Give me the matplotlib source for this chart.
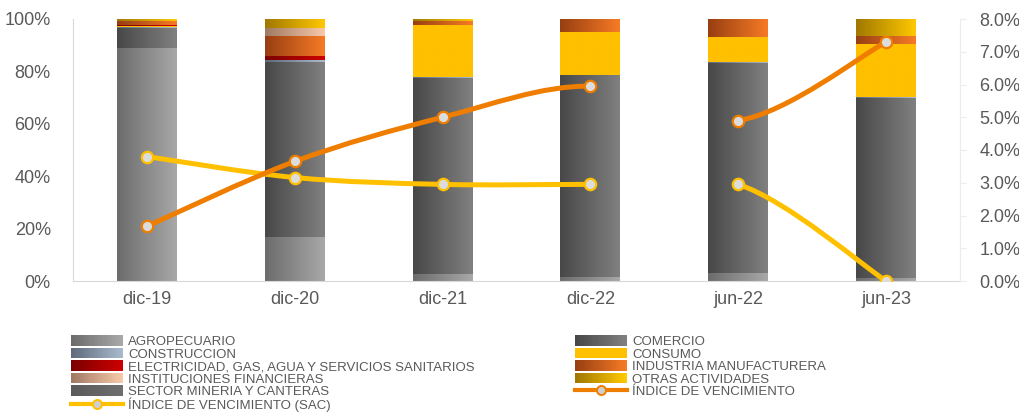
import numpy as np
import matplotlib
matplotlib.use("Agg")
import matplotlib.pyplot as plt
from matplotlib.colors import LinearSegmentedColormap
from matplotlib.patches import Rectangle, PathPatch
from matplotlib.path import Path
from matplotlib.lines import Line2D
from matplotlib.legend_handler import HandlerBase
from matplotlib.ticker import PercentFormatter, MultipleLocator

plt.rcParams['font.family'] = ['Liberation Sans', 'DejaVu Sans']

# datos (participacion por sector, fraccion del total)
periodos = ["dic-19", "dic-20", "dic-21", "dic-22", "jun-22", "jun-23"]

agropecuario   = [0.888, 0.167, 0.025, 0.015, 0.030, 0.010]
comercio       = [0.079, 0.667, 0.750, 0.772, 0.801, 0.688]
construccion   = [0.003, 0.011, 0.003, 0.000, 0.003, 0.003]
consumo        = [0.002, 0.000, 0.198, 0.164, 0.098, 0.205]
electricidad   = [0.004, 0.015, 0.000, 0.000, 0.000, 0.000]
industria      = [0.015, 0.076, 0.015, 0.049, 0.068, 0.030]
instituciones  = [0.003, 0.030, 0.000, 0.000, 0.000, 0.000]
otras          = [0.006, 0.034, 0.009, 0.000, 0.000, 0.064]
mineria        = [0.000, 0.000, 0.000, 0.000, 0.000, 0.000]

# indices de vencimiento (%)
indice_sac = [3.80, 3.16, 2.95, 2.95, 2.95, 0.00]
indice     = [1.67, 3.65, 5.00, 5.95, 4.90, 7.30]

# tramo que no se dibuja (entre dic-22 y jun-22)
tramo_oculto = 3

sectores = [
    ("AGROPECUARIO", agropecuario, "#6c6c6c", "#a8a8a8"),
    ("COMERCIO", comercio, "#484848", "#808080"),
    ("CONSTRUCCION", construccion, "#5f6b7c", "#a9b9cc"),
    ("CONSUMO", consumo, "#ffc000", "#ffc000"),
    ("ELECTRICIDAD, GAS, AGUA Y SERVICIOS SANITARIOS", electricidad, "#7c0000", "#cc0000"),
    ("INDUSTRIA MANUFACTURERA", industria, "#983f12", "#f67a25"),
    ("INSTITUCIONES FINANCIERAS", instituciones, "#a07a64", "#f8c8a8"),
    ("OTRAS ACTIVIDADES", otras, "#a07800", "#ffc800"),
    ("SECTOR MINERIA Y CANTERAS", mineria, "#5a5a5a", "#6e6e6e"),
]

gris = "#595959"
amarillo = "#ffc000"
naranja = "#ee7d00"

fig = plt.figure(figsize=(10.19, 4.12), dpi=100)
ax = fig.add_axes([73/1019, 1-281/412, 887/1019, 262/412])
x = np.arange(len(periodos))
grad = np.linspace(0, 1, 64).reshape(1, -1)

base = np.zeros(len(periodos))
for nombre, vals, c1, c2 in sectores:
    vals = np.array(vals)
    barras = ax.bar(x, vals, width=0.405, bottom=base, color="none", linewidth=0)
    cmap = LinearSegmentedColormap.from_list(nombre, [c1, c2])
    for b in barras:
        if b.get_height() <= 0:
            continue
        bx, by = b.get_x(), b.get_y()
        im = ax.imshow(grad, cmap=cmap, aspect="auto", zorder=2,
                       extent=[bx, bx + b.get_width(), by, by + b.get_height()])
        im.set_clip_path(b)
    base += vals

ax.set_xlim(-0.5, len(periodos) - 0.5)
ax.set_ylim(0, 1)
ax.set_xticks(x)
ax.set_xticklabels(periodos)
ax.yaxis.set_major_locator(MultipleLocator(0.2))
ax.yaxis.set_major_formatter(PercentFormatter(1, decimals=0))
ax.tick_params(axis="both", length=0, labelsize=13, labelcolor=gris)
ax.tick_params(axis="y", pad=16)
ax.tick_params(axis="x", pad=7)
for s in ["top", "right"]:
    ax.spines[s].set_visible(False)
for s in ["left", "bottom"]:
    ax.spines[s].set_color("#d9d9d9")

ax2 = ax.twinx()
ax2.set_ylim(0, 8)
ax2.yaxis.set_major_locator(MultipleLocator(1))
ax2.yaxis.set_major_formatter(PercentFormatter(100, decimals=1))
ax2.tick_params(axis="y", length=4, color="#ececec", labelsize=13, labelcolor=gris, pad=10)
for s in ["top", "left", "bottom"]:
    ax2.spines[s].set_visible(False)
ax2.spines["right"].set_color("#ececec")


def curva_suave(ax, xs, ys, color, oculto):
    # curvas Bezier tipo Catmull-Rom, como el suavizado de Excel
    p = np.column_stack([xs, ys]).astype(float)
    n = len(p)
    for i in range(n - 1):
        if i == oculto:
            continue
        p0 = p[max(i - 1, 0)]
        p1 = p[i]
        p2 = p[i + 1]
        p3 = p[min(i + 2, n - 1)]
        c1 = p1 + (p2 - p0) / 6
        c2 = p2 - (p3 - p1) / 6
        path = Path([p1, c1, c2, p2], [Path.MOVETO, Path.CURVE4, Path.CURVE4, Path.CURVE4])
        ax.add_patch(PathPatch(path, fill=False, edgecolor=color, lw=3.6,
                               capstyle="round", zorder=3))
    ax.plot(xs, ys, "o", ls="none", ms=8.2, mfc="#dcdcdc", mec=color, mew=1.6, zorder=4)


curva_suave(ax2, x, indice_sac, amarillo, tramo_oculto)
curva_suave(ax2, x, indice, naranja, tramo_oculto)


class Degradado:
    def __init__(self, c1, c2):
        self.c1, self.c2 = c1, c2


class HandlerDegradado(HandlerBase):
    def create_artists(self, legend, orig, xd, yd, w, h, fs, trans):
        cmap = LinearSegmentedColormap.from_list("l", [orig.c1, orig.c2])
        n = 24
        hh = 7.5 * legend.figure.dpi / 72 * 0.72
        y0 = -yd + (h - hh) / 2
        arts = []
        for k in range(n):
            r = Rectangle((-xd + w * k / n, y0), w / n + 0.3, hh,
                          facecolor=cmap(k / (n - 1)), edgecolor="none", transform=trans)
            arts.append(r)
        return arts


def linea_leyenda(color):
    return Line2D([], [], color=color, lw=3.0, marker="o", ms=6.5, mfc="#cfcfcf",
                  mec=color, mew=1.4)


izq = [0, 2, 4, 6, 8]
der = [1, 3, 5, 7]
h_izq = [Degradado(sectores[i][2], sectores[i][3]) for i in izq] + [linea_leyenda(amarillo)]
l_izq = [sectores[i][0] for i in izq] + ["ÍNDICE DE VENCIMIENTO (SAC)"]
h_der = [Degradado(sectores[i][2], sectores[i][3]) for i in der] + [linea_leyenda(naranja)]
l_der = [sectores[i][0] for i in der] + ["ÍNDICE DE VENCIMIENTO"]

opts = dict(loc="upper left", frameon=False, borderpad=0, borderaxespad=0,
            handlelength=3.94, handleheight=0.9, handletextpad=0.38, labelspacing=-0.04,
            fontsize=9.5, labelcolor=gris, handler_map={Degradado: HandlerDegradado()})
fig.legend(h_izq, l_izq, bbox_to_anchor=(71/1019, 1-335/412), **opts)
fig.legend(h_der, l_der, bbox_to_anchor=(575/1019, 1-335/412), **opts)

fig.savefig("out.png", dpi=100)
